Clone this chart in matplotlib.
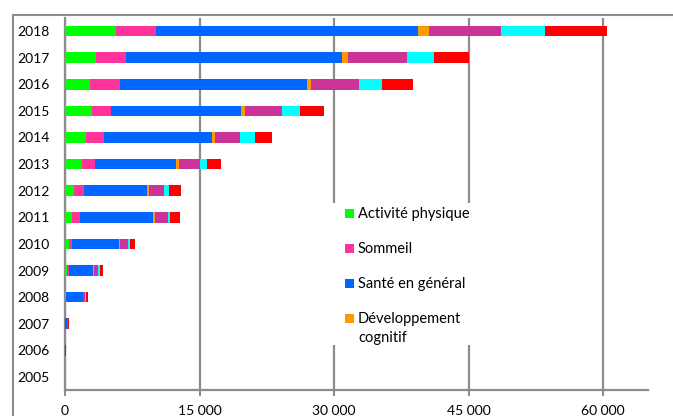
import numpy as np
import matplotlib.pyplot as plt
from matplotlib.patches import Rectangle
from matplotlib.lines import Line2D
from matplotlib.ticker import FuncFormatter

plt.rcParams['font.family'] = ['Lato', 'DejaVu Sans']

# years, bottom to top
years = ['2005', '2006', '2007', '2008', '2009', '2010', '2011',
         '2012', '2013', '2014', '2015', '2016', '2017', '2018']

# segment values per theme, same order as years
activite = [0, 0, 20, 100, 180, 400, 770, 1040, 1890, 2335, 2960, 2840, 3475, 5660]
sommeil = [0, 0, 0, 50, 220, 370, 940, 1040, 1450, 2010, 2190, 3270, 3350, 4515]
sante = [0, 0, 240, 1815, 2760, 5295, 8075, 7035, 9050, 12065, 14520, 20820, 24055, 29195]
developpement = [0, 0, 0, 60, 110, 110, 225, 225, 265, 300, 400, 515, 640, 1200]
theme5 = [0, 40, 100, 250, 405, 850, 1450, 1710, 2380, 2830, 4110, 5350, 6660, 8060]
theme6 = [0, 0, 0, 50, 190, 225, 300, 520, 815, 1640, 2070, 2515, 2990, 4900]
theme7 = [0, 20, 40, 200, 415, 560, 1010, 1340, 1530, 1900, 2630, 3470, 3860, 6910]

series = [activite, sommeil, sante, developpement, theme5, theme6, theme7]
colors = ['#00ff00', '#ff3399', '#0066ff', '#ff9900', '#cc3399', '#00ffff', '#ff0000']
# only the first four entries fit in the legend box
legend_labels = ['Activité physique', 'Sommeil', 'Santé en général',
                 'Développement\ncognitif']

W, H = 673, 416
fig = plt.figure(figsize=(W / 100, H / 100), dpi=100)
ax = fig.add_axes([65 / W, (H - 390.3) / H, 583 / W, 372.6 / H])

y = np.arange(len(years))
left = np.zeros(len(years))
for vals, c in zip(series, colors):
    ax.barh(y, vals, left=left, height=0.4, color=c, zorder=3)
    left += np.array(vals)

ax.set_xlim(0, 65000)
ax.set_ylim(-0.5, len(years) - 0.5)
ax.set_yticks(y)
ax.set_yticklabels(years, fontsize=10)
ax.set_xticks([0, 15000, 30000, 45000, 60000])
ax.xaxis.set_major_formatter(FuncFormatter(lambda v, p: f'{int(v):,}'.replace(',', ' ')))
ax.tick_params(axis='x', labelsize=10, length=4.5, width=1.5, color='#8c8c8c', pad=6)
ax.tick_params(axis='y', length=0, pad=11)
ax.grid(axis='x', color='#8c8c8c', linewidth=1.6, zorder=0)
ax.set_axisbelow(True)
for s in ['top', 'right']:
    ax.spines[s].set_visible(False)
for s in ['left', 'bottom']:
    ax.spines[s].set_color('#8c8c8c')
    ax.spines[s].set_linewidth(1.6)


def px(x, yy):
    return x / W, 1 - yy / H


# legend drawn by hand (pixel layout, top-left origin)
fig.add_artist(Rectangle(px(328, 345), 147 / W, 142 / H, transform=fig.transFigure,
                         facecolor='white', edgecolor='none', zorder=5))
for i, (lab, c) in enumerate(zip(legend_labels, colors)):
    yc = 213 + 35 * i
    fig.add_artist(Rectangle(px(345, yc + 4.5), 9 / W, 9 / H, transform=fig.transFigure,
                             facecolor=c, edgecolor='none', zorder=6))
    tx, ty = px(358, yc - 6)
    fig.text(tx, ty, lab, fontsize=10.5, va='top', ha='left', linespacing=1.45, zorder=6)

# chart area border
fig.add_artist(Line2D([13 / W, 13 / W], [0, 1 - 15 / H], transform=fig.transFigure,
                      color='#8c8c8c', linewidth=1.5))
fig.add_artist(Line2D([13 / W, 1], [1 - 15 / H, 1 - 15 / H], transform=fig.transFigure,
                      color='#8c8c8c', linewidth=1.5))

fig.savefig('out.png', dpi=100)
